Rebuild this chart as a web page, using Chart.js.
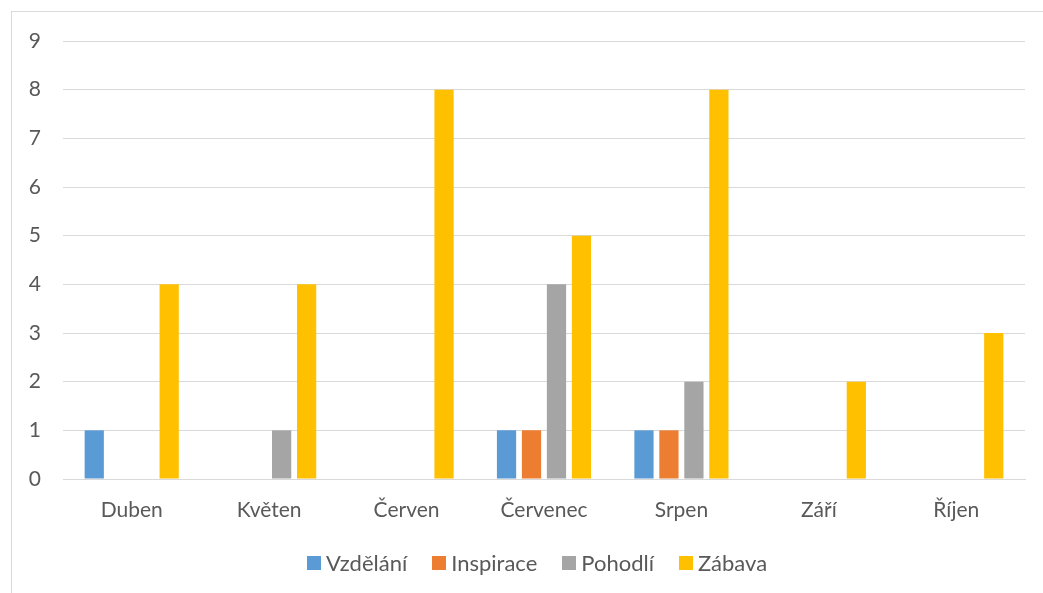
<!DOCTYPE html>
<html>
<head>
<meta charset="utf-8">
<script src="https://cdn.jsdelivr.net/npm/chart.js@4"></script>
<style>
  html, body { margin: 0; padding: 0; background: #fff; overflow: hidden; }
  #wrap { position: relative; width: 1043px; height: 593px; }
  #frame { position: absolute; left: 11px; top: 11px; width: 1100px; height: 700px; border: 1px solid #d9d9d9; box-sizing: border-box; }
  canvas { position: absolute; left: 0; top: 0; }
</style>
</head>
<body>
<div id="wrap">
  <div id="frame"></div>
  <canvas id="chart" width="1043" height="593"></canvas>
</div>
<script>
const months = ["Duben", "Květen", "Červen", "Červenec", "Srpen", "Září", "Říjen"];
const vzdelani = [1, 0, 0, 1, 1, 0, 0];
const inspirace = [0, 0, 0, 1, 1, 0, 0];
const pohodli = [0, 1, 0, 4, 2, 0, 0];
const zabava = [4, 4, 8, 5, 8, 2, 3];
const yMax = 9;

const fontFamily = "Lato, 'Open Sans', sans-serif";
const textColor = "#595959";
const gridColor = "#d9d9d9";

function series(label, data, color) {
  return {
    label: label,
    data: data,
    backgroundColor: color,
    borderWidth: 0,
    categoryPercentage: 0.727,
    barPercentage: 0.77
  };
}

// excel-style legend: small square, tight gap to the text, centred on the frame
const legendBelow = {
  id: "legendBelow",
  afterDraw(chart) {
    const ctx = chart.ctx;
    const box = 14, gap = 5, itemGap = 25, centreX = 537, y = 563;
    ctx.save();
    ctx.font = "22px " + fontFamily;
    ctx.textBaseline = "middle";
    const items = chart.data.datasets.map(ds => ({ label: ds.label, color: ds.backgroundColor, w: ctx.measureText(ds.label).width }));
    let total = 0;
    items.forEach((it, i) => { total += box + gap + it.w + (i < items.length - 1 ? itemGap : 0); });
    let x = centreX - total / 2;
    items.forEach(it => {
      ctx.fillStyle = it.color;
      ctx.fillRect(Math.round(x), y - box / 2, box, box);
      ctx.fillStyle = textColor;
      ctx.fillText(it.label, x + box + gap, y + 1);
      x += box + gap + it.w + itemGap;
    });
    ctx.restore();
  }
};

new Chart(document.getElementById("chart").getContext("2d"), {
  type: "bar",
  data: {
    labels: months,
    datasets: [
      series("Vzdělání", vzdelani, "#5b9bd5"),
      series("Inspirace", inspirace, "#ed7d31"),
      series("Pohodlí", pohodli, "#a5a5a5"),
      series("Zábava", zabava, "#ffc000")
    ]
  },
  options: {
    responsive: false,
    animation: false,
    layout: { padding: { left: 0, right: 18, top: 41, bottom: 64 } },
    scales: {
      x: {
        grid: { display: false, drawTicks: false },
        border: { color: gridColor, width: 1 },
        ticks: { color: textColor, font: { family: fontFamily, size: 21 }, padding: 19 },
        afterFit: function (scale) { scale.height = 50; }
      },
      y: {
        min: 0,
        max: yMax,
        grid: { color: gridColor, lineWidth: 1, drawTicks: false },
        border: { display: false },
        ticks: { stepSize: 1, color: textColor, font: { family: fontFamily, size: 21 }, padding: 22 },
        afterFit: function (scale) { scale.width = 63; }
      }
    },
    plugins: {
      legend: { display: false },
      tooltip: { enabled: false }
    }
  },
  plugins: [legendBelow]
});
</script>
</body>
</html>
